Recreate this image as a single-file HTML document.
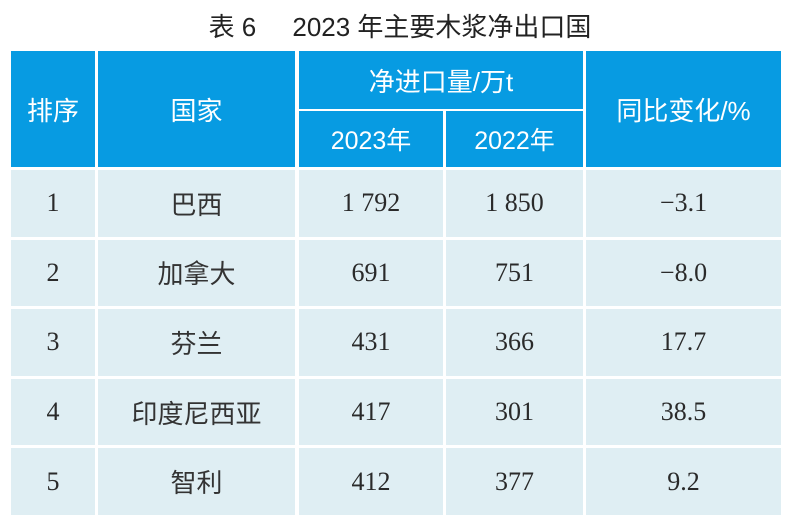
<!DOCTYPE html>
<html><head><meta charset="utf-8"><style>
body{margin:0;width:800px;height:524px;background:#fff;position:relative;overflow:hidden;font-family:"Liberation Sans","Noto Sans CJK SC",sans-serif}
.c{position:absolute;display:flex;align-items:center;justify-content:center;box-sizing:border-box}
.h{background:#079be2;color:#fff;font-size:26px}
.b{background:#dfeef3;color:#2a2a2a;font-size:26px;font-family:"Liberation Serif","Noto Sans CJK SC",serif}
.b.z{font-family:"Liberation Sans","Noto Sans CJK SC",sans-serif;font-size:26px;color:#333}
</style></head><body>
<div class="c" style="left:0;top:4px;width:800px;height:42px;font-size:26px;color:#222">表 6&nbsp;&nbsp;&nbsp;&nbsp;&nbsp;2023 年主要木浆净出口国</div>
<div class="c h" style="left:11px;top:51px;width:84px;height:116px">排序</div>
<div class="c h" style="left:98px;top:51px;width:197px;height:116px">国家</div>
<div class="c h" style="left:299px;top:51px;width:284px;height:58px">净进口量/万t</div>
<div class="c h" style="left:299px;top:111px;width:144px;height:56px;font-size:25px">2023年</div>
<div class="c h" style="left:446px;top:111px;width:137px;height:56px;font-size:25px">2022年</div>
<div class="c h" style="left:586px;top:51px;width:195px;height:116px">同比变化/%</div>
<div id="rows"></div>
<script>
var d=[["1","巴西","1 792","1 850","−3.1"],["2","加拿大","691","751","−8.0"],["3","芬兰","431","366","17.7"],["4","印度尼西亚","417","301","38.5"],["5","智利","412","377","9.2"]];
var xs=[[11,84],[98,197],[299,144],[446,137],[586,195]],h="";
d.forEach(function(r,i){var t=170+i*69.6;r.forEach(function(v,j){h+='<div class="c b'+(j==1?' z':'')+'" style="left:'+xs[j][0]+'px;top:'+t+'px;width:'+xs[j][1]+'px;height:66.6px">'+v+'</div>';});});
document.getElementById("rows").innerHTML=h;
</script>
</body></html>
